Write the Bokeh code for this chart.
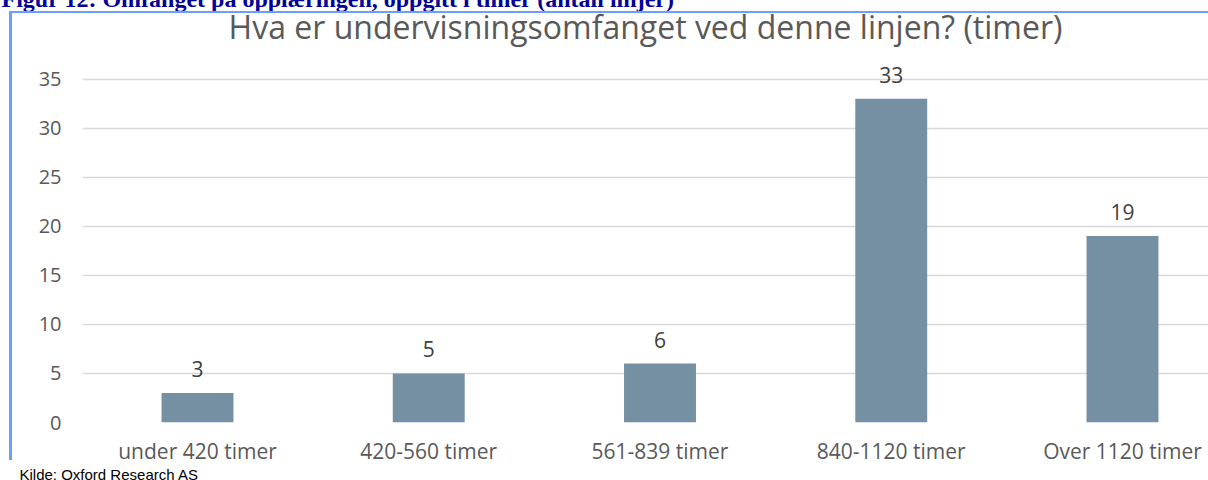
from bokeh.plotting import figure
from bokeh.models import FixedTicker, Title, Range1d, ColumnDataSource, LabelSet, InlineStyleSheet
from bokeh.core.properties import value
from bokeh.embed import file_html
from bokeh.resources import INLINE

categories = ["under 420 timer", "420-560 timer", "561-839 timer", "840-1120 timer", "Over 1120 timer"]
values = [3, 5, 6, 33, 19]
y_ticks = [0, 5, 10, 15, 20, 25, 30, 35]
title_text = "Hva er undervisningsomfanget ved denne linjen? (timer)"
caption_text = "Figur 12: Omfanget på opplæringen, oppgitt i timer (antall linjer)"
source_text = "Kilde: Oxford Research AS"

W, H = 1208, 480
FL, FT, FB = 82, 55, 422          # frame left / top / bottom (page pixels)
GREY = "#595959"
FONT = "Open Sans"

border_css = InlineStyleSheet(css="""
:host { position: relative; }
:host::after { content: ""; position: absolute; left: 9px; top: 11px; width: 1199px; height: 449px;
  border-left: 3px solid #6B9EFF; border-top: 2px solid #6B9EFF; box-sizing: border-box;
  pointer-events: none; z-index: 10; }
""")

p = figure(width=W, height=H, output_backend="svg", toolbar_location=None,
           x_range=Range1d(-0.4973, 4.3719), y_range=Range1d(0, 37.4),
           min_border_left=FL, min_border_right=0, min_border_top=FT, min_border_bottom=H - FB,
           stylesheets=[border_css])
p.outline_line_color = None
p.background_fill_color = "white"
p.border_fill_color = "white"

xs = list(range(len(categories)))
src = ColumnDataSource(dict(x=xs, top=values, lab=[str(v) for v in values]))
p.vbar(x="x", top="top", width=0.311, source=src, fill_color="#7590A3", line_color=None)

labels = LabelSet(x="x", y="top", text="lab", source=src, text_align="center",
                  text_baseline="bottom", y_offset=16, text_font=value(FONT),
                  text_font_size="21px", text_color="#404040")
p.add_layout(labels)

p.xgrid.grid_line_color = None
p.ygrid.grid_line_color = "#D9D9D9"
p.ygrid.grid_line_width = 1.5
p.yaxis.ticker = FixedTicker(ticks=y_ticks)
p.xaxis.ticker = FixedTicker(ticks=xs)
p.xaxis.major_label_overrides = {i: c for i, c in enumerate(categories)}
for ax in (p.xaxis, p.yaxis):
    ax.axis_line_color = None
    ax.major_tick_line_color = None
    ax.minor_tick_line_color = None
    ax.major_tick_out = 0
    ax.major_tick_in = 0
    ax.minor_tick_out = 0
    ax.minor_tick_in = 0
    ax.major_label_text_font = FONT
    ax.major_label_text_font_size = "20px"
    ax.major_label_text_color = GREY
p.xaxis.major_label_text_font_size = "21px"
p.xaxis.major_label_standoff = 14
p.yaxis.major_label_standoff = 21

p.add_layout(Title(text=title_text, align="center", vertical_align="top", standoff=9.6,
                   text_font=FONT, text_font_size="32px", text_font_style="normal",
                   text_color=GREY), "above")
p.add_layout(Title(text=caption_text, align="left", vertical_align="top", offset=1 - FL,
                   standoff=-28.6, text_font="Liberation Serif", text_font_size="24px",
                   text_font_style="bold", text_color="#000099"), "above")
p.add_layout(Title(text=source_text, align="left", offset=19 - FL, standoff=-7,
                   text_font="Liberation Sans", text_font_size="15px", text_font_style="normal",
                   text_color="black"), "below")

open("out.html", "w").write(file_html(p, INLINE))
